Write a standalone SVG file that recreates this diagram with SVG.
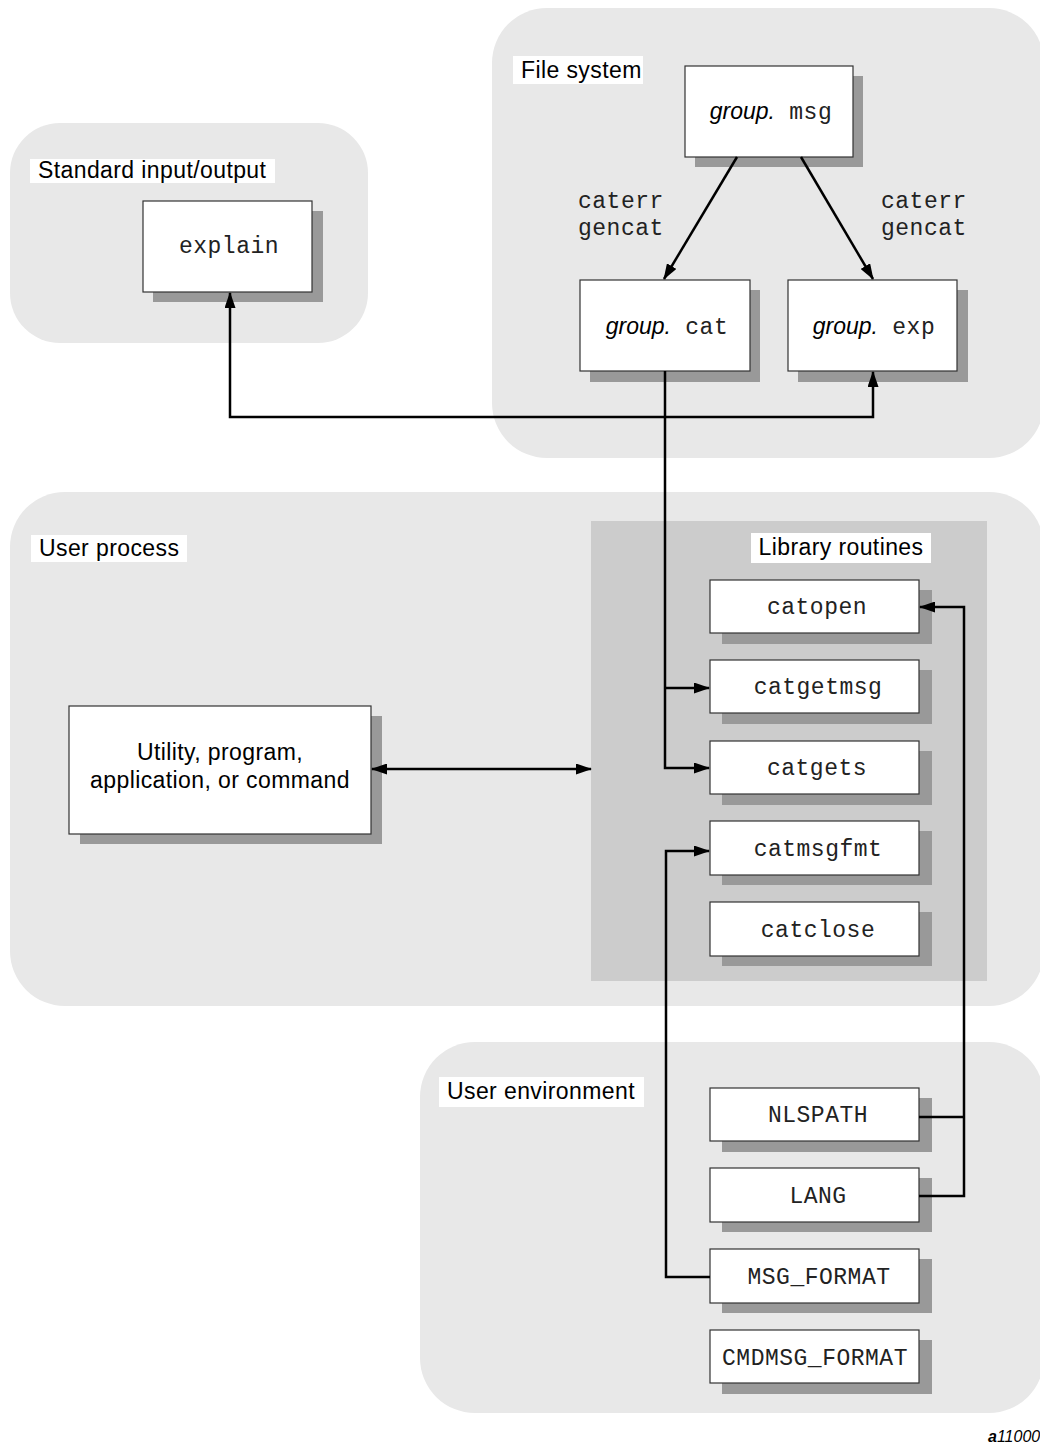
<svg xmlns="http://www.w3.org/2000/svg" width="1040" height="1445" viewBox="0 0 1040 1445">
<style>
.region{fill:#e8e8e8}
.lib{fill:#cccccc}
.lbl{fill:#ffffff}
.box{fill:#ffffff;stroke:#333333;stroke-width:1.2}
.shadow{fill:#999999}
.sans{font-family:"Liberation Sans",Arial,sans-serif;font-size:23px;fill:#000;letter-spacing:0.4px}
.mono{font-family:"Liberation Mono","Courier New",monospace;font-size:23px;fill:#222;letter-spacing:0.5px}
.it{font-family:"Liberation Sans",Arial,sans-serif;font-style:italic;font-size:23px;fill:#000}
.conn{fill:none;stroke:#000;stroke-width:2.5}
</style>
<defs>
<marker id="ah" markerWidth="16" markerHeight="11" refX="15" refY="5.5" orient="auto-start-reverse" markerUnits="userSpaceOnUse">
<path d="M0,0 L16,5.5 L0,11 Z" fill="#000"/>
</marker>
</defs>
<rect width="1040" height="1445" fill="#ffffff"/>

<g id="region-stdio">
<rect class="region" x="10" y="123" width="358" height="220" rx="50"/>
<rect class="lbl" x="30" y="159" width="245" height="24"/>
<text class="sans" x="38" y="178">Standard input/output</text>
</g>
<g id="region-fs">
<rect class="region" x="492" y="8" width="552" height="450" rx="55"/>
<rect class="lbl" x="513" y="56" width="130" height="28"/>
<text class="sans" x="521" y="78">File system</text>
</g>
<g id="region-userproc">
<rect class="region" x="10" y="492" width="1034" height="514" rx="55"/>
<rect class="lbl" x="31" y="535" width="156" height="27"/>
<text class="sans" x="39" y="556">User process</text>
</g>
<g id="region-lib">
<rect class="lib" x="591" y="521" width="396" height="460"/>
<rect class="lbl" x="751" y="533" width="180" height="30"/>
<text class="sans" x="841" y="555" text-anchor="middle">Library routines</text>
</g>
<g id="region-userenv">
<rect class="region" x="420" y="1042" width="624" height="371" rx="55"/>
<rect class="lbl" x="439" y="1077" width="205" height="30"/>
<text class="sans" x="447" y="1099">User environment</text>
</g>

<g id="node-explain">
<rect class="shadow" x="153" y="211" width="170" height="91"/>
<rect class="box" x="143" y="201" width="169" height="91"/>
<text class="mono" x="229" y="253" text-anchor="middle">explain</text>
</g>
<g id="node-msg">
<rect class="shadow" x="695" y="76" width="168" height="91"/>
<rect class="box" x="685" y="66" width="168" height="91"/>
<text x="771" y="119" text-anchor="middle"><tspan class="it">group.</tspan><tspan class="mono"> msg</tspan></text>
</g>
<g id="node-cat">
<rect class="shadow" x="590" y="290" width="170" height="92"/>
<rect class="box" x="580" y="280" width="170" height="91"/>
<text x="667" y="334" text-anchor="middle"><tspan class="it">group.</tspan><tspan class="mono"> cat</tspan></text>
</g>
<g id="node-exp">
<rect class="shadow" x="798" y="290" width="170" height="92"/>
<rect class="box" x="788" y="280" width="169" height="91"/>
<text x="874" y="334" text-anchor="middle"><tspan class="it">group.</tspan><tspan class="mono"> exp</tspan></text>
</g>
<g id="label-caterr-left">
<text class="mono" x="578" y="208">caterr</text>
<text class="mono" x="578" y="235">gencat</text>
</g>
<g id="label-caterr-right">
<text class="mono" x="881" y="208">caterr</text>
<text class="mono" x="881" y="235">gencat</text>
</g>

<g id="node-utility">
<rect class="shadow" x="80" y="716" width="302" height="128"/>
<rect class="box" x="69" y="706" width="302" height="128"/>
<text class="sans" x="220" y="760" text-anchor="middle">Utility, program,</text>
<text class="sans" x="220" y="788" text-anchor="middle">application, or command</text>
</g>

<g id="node-catopen">
<rect class="shadow" x="722" y="590" width="210" height="54"/>
<rect class="box" x="710" y="580" width="209" height="53"/>
<text class="mono" x="817" y="614" text-anchor="middle">catopen</text>
</g>
<g id="node-catgetmsg">
<rect class="shadow" x="722" y="670" width="210" height="54"/>
<rect class="box" x="710" y="660" width="209" height="53"/>
<text class="mono" x="818" y="694" text-anchor="middle">catgetmsg</text>
</g>
<g id="node-catgets">
<rect class="shadow" x="722" y="751" width="210" height="54"/>
<rect class="box" x="710" y="741" width="209" height="53"/>
<text class="mono" x="817" y="775" text-anchor="middle">catgets</text>
</g>
<g id="node-catmsgfmt">
<rect class="shadow" x="722" y="831" width="210" height="54"/>
<rect class="box" x="710" y="821" width="209" height="54"/>
<text class="mono" x="818" y="856" text-anchor="middle">catmsgfmt</text>
</g>
<g id="node-catclose">
<rect class="shadow" x="722" y="912" width="210" height="54"/>
<rect class="box" x="710" y="902" width="209" height="54"/>
<text class="mono" x="818" y="937" text-anchor="middle">catclose</text>
</g>

<g id="node-nlspath">
<rect class="shadow" x="722" y="1098" width="210" height="54"/>
<rect class="box" x="710" y="1088" width="209" height="53"/>
<text class="mono" x="818" y="1122" text-anchor="middle">NLSPATH</text>
</g>
<g id="node-lang">
<rect class="shadow" x="722" y="1178" width="210" height="54"/>
<rect class="box" x="710" y="1168" width="209" height="54"/>
<text class="mono" x="818" y="1203" text-anchor="middle">LANG</text>
</g>
<g id="node-msgformat">
<rect class="shadow" x="722" y="1259" width="210" height="54"/>
<rect class="box" x="710" y="1249" width="209" height="54"/>
<text class="mono" x="819" y="1284" text-anchor="middle">MSG_FORMAT</text>
</g>
<g id="node-cmdmsgformat">
<rect class="shadow" x="722" y="1340" width="210" height="54"/>
<rect class="box" x="710" y="1330" width="209" height="53"/>
<text class="mono" x="815" y="1365" text-anchor="middle" letter-spacing="0">CMDMSG_FORMAT</text>
</g>

<g id="connectors">
<path class="conn" d="M737,157 L664,279" marker-end="url(#ah)"/>
<path class="conn" d="M801,157 L873,279" marker-end="url(#ah)"/>
<path class="conn" d="M230,293 L230,417 L873,417 L873,372" marker-start="url(#ah)" marker-end="url(#ah)"/>
<path class="conn" d="M665,371 L665,768 L709,768" marker-end="url(#ah)"/>
<path class="conn" d="M665,688 L709,688" marker-end="url(#ah)"/>
<path class="conn" d="M372,769 L591,769" marker-start="url(#ah)" marker-end="url(#ah)"/>
<path class="conn" d="M919,1196 L964,1196 L964,607 L920,607" marker-end="url(#ah)"/>
<path class="conn" d="M919,1117 L964,1117"/>
<path class="conn" d="M710,1277 L666,1277 L666,851 L709,851" marker-end="url(#ah)"/>
</g>

<text x="988" y="1442" font-family="'Liberation Sans',Arial,sans-serif" font-style="italic" font-size="16" fill="#000"><tspan font-weight="bold">a</tspan>11000</text>
</svg>
